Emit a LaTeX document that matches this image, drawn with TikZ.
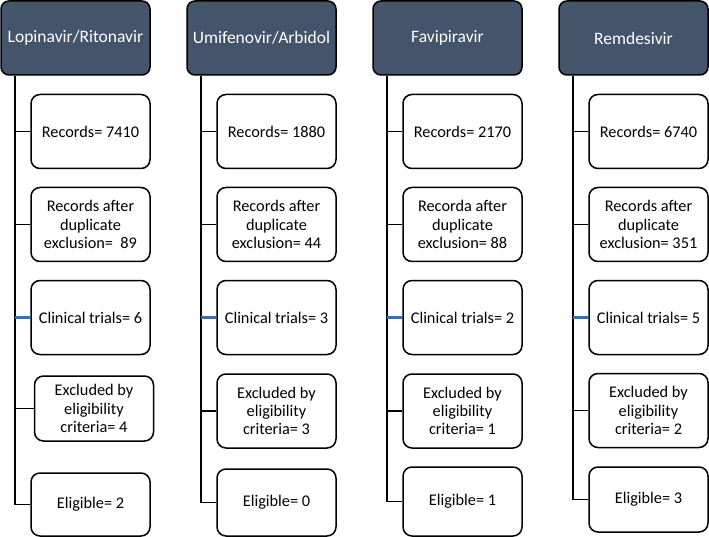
\documentclass[tikz,border=0pt]{standalone}
\usepackage{fontspec}
\setmainfont{Carlito}
\definecolor{drugfill}{HTML}{44546A}
\definecolor{trialblue}{HTML}{3A6FAE}
\tikzset{
  drug/.style={draw=black, line width=1.5pt, fill=drugfill, text=white, rounded corners=8pt,
    minimum width=149pt, minimum height=74pt, inner sep=1pt, font=\fontsize{17.5}{20}\selectfont},
  stage/.style={draw=black, line width=1.5pt, fill=white, rounded corners=9pt, align=center,
    minimum width=119pt, minimum height=74pt, inner sep=1pt, font=\fontsize{16.3}{18.3}\selectfont},
  link/.style={line width=1.9pt},
  trial/.style={line width=2.2pt, draw=trialblue}
}

\begin{document}
\begin{tikzpicture}[x=1pt,y=-1pt]

        \useasboundingbox (0,0) rectangle (709,537);

        % Lopinavir/Ritonavir
        \node [drug] (lop) at (75.5,38) {Lopinavir/Ritonavir};
        \coordinate (lopT) at ([xshift=15pt]lop.south west);
        \node [stage] (lop1) at (90.5,131.5) {Records= 7410};
        \node [stage] (lop2) at (90.5,224.5) {Records after\\duplicate\\exclusion=~ 89};
        \node [stage] (lop3) at (90.5,317.5) {Clinical trials= 6};
        \node [stage, minimum height=65pt] (lop4) at (94,408.5) {Excluded by\\eligibility\\criteria= 4};
        \node [stage, minimum height=63pt] (lop5) at (90.5,504.5) {Eligible= 2};

        % Umifenovir/Arbidol
        \node [drug] (umi) at (261.5,38) {Umifenovir/Arbidol};
        \coordinate (umiT) at ([xshift=15pt]umi.south west);
        \node [stage] (umi1) at (276.5,131.5) {Records= 1880};
        \node [stage] (umi2) at (276.5,224.5) {Records after\\duplicate\\exclusion= 44};
        \node [stage] (umi3) at (276.5,317.5) {Clinical trials= 3};
        \node [stage] (umi4) at (276.5,411) {Excluded by\\eligibility\\criteria= 3};
        \node [stage, minimum height=67pt] (umi5) at (276.5,502.5) {Eligible= 0};

        % Favipiravir
        \node [drug] (fav) at (447.5,38) {Favipiravir};
        \coordinate (favT) at ([xshift=15pt]fav.south west);
        \node [stage] (fav1) at (462.5,131.5) {Records= 2170};
        \node [stage] (fav2) at (462.5,224.5) {Recorda after\\duplicate\\exclusion= 88};
        \node [stage] (fav3) at (462.5,317.5) {Clinical trials= 2};
        \node [stage] (fav4) at (462.5,411) {Excluded by\\eligibility\\criteria= 1};
        \node [stage, minimum height=69pt] (fav5) at (462.5,501.5) {Eligible= 1};

        % Remdesivir
        \node [drug] (rem) at (633.5,38) {Remdesivir};
        \coordinate (remT) at ([xshift=15pt]rem.south west);
        \node [stage] (rem1) at (648.5,131.5) {Records= 6740};
        \node [stage] (rem2) at (648.5,224.5) {Records after\\duplicate\\exclusion= 351};
        \node [stage] (rem3) at (648.5,317.5) {Clinical trials= 5};
        \node [stage] (rem4) at (648.5,410.5) {Excluded by\\eligibility\\criteria= 2};
        \node [stage, minimum height=65pt] (rem5) at (648.5,499.5) {Eligible= 3};

        % Lopinavir/Ritonavir branches
        \draw [link] (lopT) |- (lop5.west);
        \draw [link] (lop1.west) -- (lop1.west -| lopT);
        \draw [link] (lop2.west) -- (lop2.west -| lopT);
        \draw [trial] (lop3.west) -- (lop3.west -| lopT);
        \draw [link] (lop4.west) -- (lop4.west -| lopT);

        % Umifenovir/Arbidol branches
        \draw [link] (umiT) |- (umi5.west);
        \draw [link] (umi1.west) -- (umi1.west -| umiT);
        \draw [link] (umi2.west) -- (umi2.west -| umiT);
        \draw [trial] (umi3.west) -- (umi3.west -| umiT);
        \draw [link] (umi4.west) -- (umi4.west -| umiT);

        % Favipiravir branches
        \draw [link] (favT) |- (fav5.west);
        \draw [link] (fav1.west) -- (fav1.west -| favT);
        \draw [link] (fav2.west) -- (fav2.west -| favT);
        \draw [trial] (fav3.west) -- (fav3.west -| favT);
        \draw [link] (fav4.west) -- (fav4.west -| favT);

        % Remdesivir branches
        \draw [link] (remT) |- (rem5.west);
        \draw [link] (rem1.west) -- (rem1.west -| remT);
        \draw [link] (rem2.west) -- (rem2.west -| remT);
        \draw [trial] (rem3.west) -- (rem3.west -| remT);
        \draw [link] (rem4.west) -- (rem4.west -| remT);

    \end{tikzpicture}
\end{document}
